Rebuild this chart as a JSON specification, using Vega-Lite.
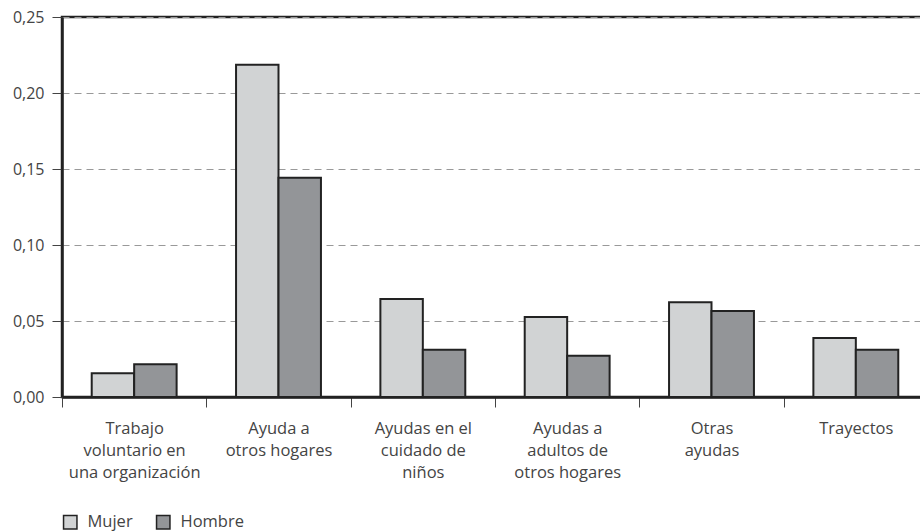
{
  "$schema": "https://vega.github.io/schema/vega-lite/v6.json",
  "width": 866,
  "height": 380,
  "autosize": {"type": "none"},
  "padding": {"left": 62, "top": 17, "right": 0, "bottom": 134},
  "background": "white",
  "config": {
    "locale": {"number": {"decimal": ",", "thousands": ".", "grouping": [3], "currency": ["", " €"]}},
    "font": "Open Sans",
    "view": {"stroke": "#222", "strokeWidth": 2.5}
  },
  "data": {
    "values": [
      {"cat": "Trabajo|voluntario en|una organización", "sexo": "Mujer", "valor": 0.0156},
      {"cat": "Trabajo|voluntario en|una organización", "sexo": "Hombre", "valor": 0.0215},
      {"cat": "Ayuda a|otros hogares", "sexo": "Mujer", "valor": 0.2186},
      {"cat": "Ayuda a|otros hogares", "sexo": "Hombre", "valor": 0.1443},
      {"cat": "Ayudas en el|cuidado de|niños", "sexo": "Mujer", "valor": 0.0645},
      {"cat": "Ayudas en el|cuidado de|niños", "sexo": "Hombre", "valor": 0.0311},
      {"cat": "Ayudas a|adultos de|otros hogares", "sexo": "Mujer", "valor": 0.0526},
      {"cat": "Ayudas a|adultos de|otros hogares", "sexo": "Hombre", "valor": 0.0272},
      {"cat": "Otras|ayudas", "sexo": "Mujer", "valor": 0.0623},
      {"cat": "Otras|ayudas", "sexo": "Hombre", "valor": 0.0566},
      {"cat": "Trayectos", "sexo": "Mujer", "valor": 0.0388},
      {"cat": "Trayectos", "sexo": "Hombre", "valor": 0.0311}
    ]
  },
  "mark": {"type": "bar", "stroke": "#222", "strokeWidth": 2},
  "encoding": {
    "x": {
      "field": "cat", "type": "nominal", "sort": null,
      "scale": {"paddingInner": 0, "paddingOuter": 0},
      "axis": {
        "title": null, "labelAngle": 0,
        "labelExpr": "split(datum.label, '|')",
        "labelFontSize": 16.5, "labelColor": "#444", "labelLineHeight": 22,
        "labelBaseline": "top", "labelPadding": 13,
        "tickBand": "extent", "tickSize": 10, "tickColor": "#444", "tickWidth": 1,
        "domainColor": "#222", "domainWidth": 2.5, "grid": false
      }
    },
    "xOffset": {
      "field": "sexo", "type": "nominal", "sort": ["Mujer", "Hombre"],
      "scale": {"domain": ["Mujer", "Hombre"], "paddingInner": 0, "paddingOuter": 0.7}
    },
    "y": {
      "field": "valor", "type": "quantitative",
      "scale": {"domain": [0, 0.25], "nice": false},
      "axis": {
        "title": null, "values": [0, 0.05, 0.1, 0.15, 0.2, 0.25], "format": ".2f",
        "labelFontSize": 16, "labelColor": "#444", "labelPadding": 8,
        "tickSize": 10, "tickColor": "#444", "tickWidth": 1,
        "domainColor": "#222", "domainWidth": 2.5,
        "grid": true, "gridColor": "#999", "gridDash": [7, 5], "gridWidth": 1
      }
    },
    "color": {
      "field": "sexo", "type": "nominal",
      "scale": {"domain": ["Mujer", "Hombre"], "range": ["#d1d3d4", "#939598"]},
      "legend": {
        "title": null, "orient": "none", "legendX": 0, "legendY": 497,
        "direction": "horizontal", "symbolType": "square", "symbolSize": 180,
        "symbolStrokeColor": "#222", "symbolStrokeWidth": 1.5,
        "labelFontSize": 16.5, "labelColor": "#444", "columnPadding": 20, "labelOffset": 9
      }
    }
  }
}
